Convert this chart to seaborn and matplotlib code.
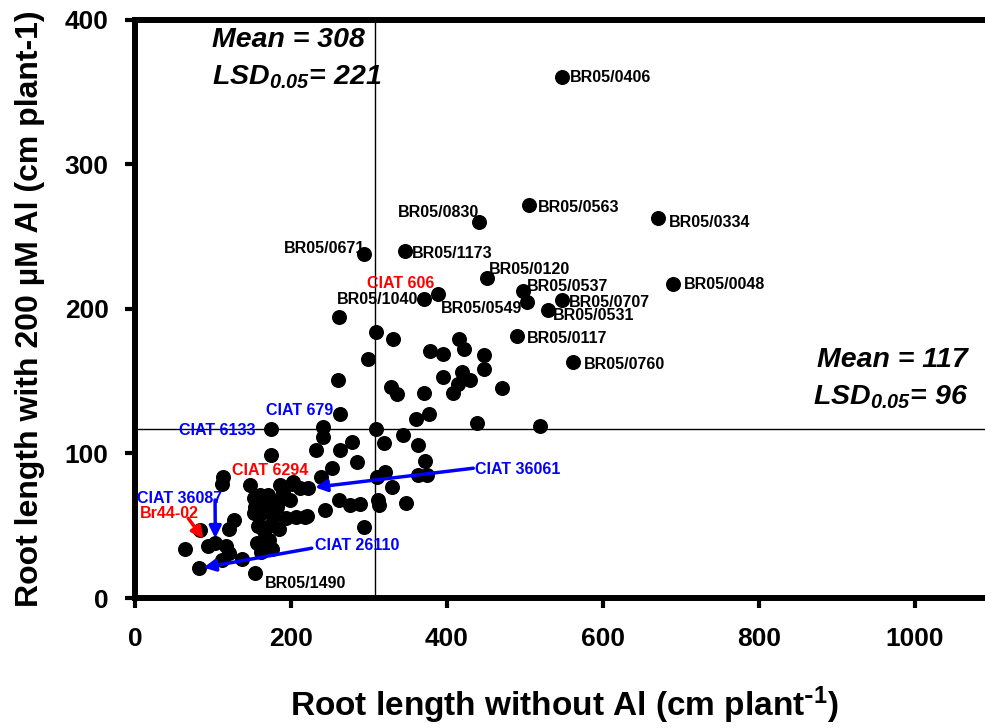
import matplotlib
matplotlib.use("Agg")
import matplotlib.pyplot as plt
import numpy as np
import pandas as pd
import seaborn as sns

# ---------------- data ----------------
label_names = ["BR05/0406", "BR05/0563", "BR05/0334", "BR05/0830", "BR05/0671",
               "BR05/1173", "BR05/0120", "BR05/0048", "BR05/0537", "BR05/0549",
               "BR05/0707", "BR05/0531", "CIAT 606", "BR05/1040", "BR05/0117",
               "BR05/0760", "CIAT 679", "CIAT 6133", "CIAT 6294", "CIAT 36061",
               "CIAT 36087", "Br44-02", "CIAT 26110", "BR05/1490"]
label_x = [548, 505, 671, 441, 293, 346, 451, 690, 497, 503, 547, 529, 388, 371,
           490, 561, 263, 174, 211.5, 222, 103, 94, 82.5, 154]
label_y = [360, 272, 263, 260, 238, 240, 221, 217, 212, 205, 206, 199, 210, 207,
           181, 163, 127, 117, 76, 76, 38, 36.3, 20.5, 17.5]

other_x = [262, 309, 331, 299, 378, 395, 415, 422, 448, 448,
           260, 395, 419, 429, 414, 408, 470, 328, 336, 370,
           360, 377, 439, 519, 309, 241, 241, 278, 263, 232,
           285, 253, 238, 319, 343, 363, 372, 363, 374, 320,
           310, 329, 312, 313, 347, 261, 276, 288, 244, 220,
           293, 174, 203, 186, 113, 111, 147, 160, 154, 127,
           120, 190, 201, 173, 186, 199, 160, 152, 177, 194,
           207, 218, 165, 172, 175, 156, 162, 120, 117, 64,
           83, 111, 137, 158, 169, 184, 152, 171, 182, 164]
other_y = [194, 184, 179, 165, 171, 169, 179, 172, 168, 158,
           151, 153, 156, 151, 148, 142, 145, 146, 141, 142,
           124, 127, 121, 119, 117, 118, 111, 108, 102, 102,
           94, 90, 84, 107, 113, 106, 95, 85, 85, 87,
           84, 77, 68, 64, 66, 68, 64, 65, 61, 57,
           49, 99, 80, 78, 84, 79, 78, 71, 63, 54,
           48, 73, 79, 65, 68, 68, 58, 59, 56, 55,
           56, 56, 46, 40, 34, 38, 32, 31, 36, 34,
           47, 26, 27, 50, 49, 48, 69, 71, 63, 62]

mean_x, lsd_x = 308, 221
mean_y, lsd_y = 117, 96
x_ticks = [0, 200, 400, 600, 800, 1000]
y_ticks = [0, 100, 200, 300, 400]

# ---------------- style ----------------
sns.set_style("white")
plt.rcParams['font.family'] = ['Liberation Sans', 'DejaVu Sans']
plt.rcParams['font.weight'] = 'bold'
plt.rcParams['mathtext.default'] = 'regular'
for key in ['text.color', 'axes.labelcolor', 'xtick.color', 'ytick.color',
            'axes.edgecolor']:
    plt.rcParams[key] = 'black'

BLUE = "#0000FF"
RED = "#FF0000"

# label offsets in points: (dx, dy, ha, color)
label_style = {
    "BR05/0406": (5.5, 0, "left", "black"),
    "BR05/0563": (6.8, -1.9, "left", "black"),
    "BR05/0334": (7.8, -3.6, "left", "black"),
    "BR05/0830": (0, 6.7, "right", "black"),
    "BR05/0671": (1, 3.5, "right", "black"),
    "BR05/1173": (4.9, -1.7, "left", "black"),
    "BR05/0120": (1.8, 6.5, "left", "black"),
    "BR05/0048": (8, -0.6, "left", "black"),
    "BR05/0537": (3.1, 3.7, "left", "black"),
    "BR05/0549": (-4, -4.8, "right", "black"),
    "BR05/0707": (5.5, -1.6, "left", "black"),
    "BR05/0531": (3.7, -4, "left", "black"),
    "CIAT 606": (-2.4, 7.9, "right", RED),
    "BR05/1040": (-4.4, -0.9, "right", "black"),
    "BR05/0117": (6.8, -1.4, "left", "black"),
    "BR05/0760": (8.2, -1.9, "left", "black"),
    "CIAT 679": (-4.9, 2.4, "right", BLUE),
    "CIAT 6133": (-10.6, -0.9, "right", BLUE),
    "CIAT 6294": (6, 12.5, "right", RED),
    "CIAT 36061": (120, 13.7, "left", BLUE),
    "CIAT 36087": (-56.6, 32.3, "left", BLUE),
    "Br44-02": (-49.2, 23.2, "left", RED),
    "CIAT 26110": (83.2, 16.8, "left", BLUE),
    "BR05/1490": (7.1, -7.6, "left", "black"),
}
# arrows: start offset in points from point, shrink at point end
arrow_style = {
    "CIAT 36061": (118.9, 14.3, 5),
    "CIAT 36087": (-0.2, 31, 3.5),
    "Br44-02": (-14.4, 19.5, 6),
    "CIAT 26110": (80.9, 14.5, 3),
}

fig = plt.figure(figsize=(9.85, 7.28), dpi=100)
ax = fig.add_axes([135 / 985, 130 / 728, 858 / 985, 578.5 / 728])

df = pd.DataFrame({"x": other_x + label_x, "y": other_y + label_y})
sns.scatterplot(data=df, x="x", y="y", ax=ax, color="black", s=117,
                linewidth=0, zorder=3, legend=False)

ax.axvline(mean_x, color="black", lw=1, zorder=1)
ax.axhline(mean_y, color="black", lw=1, zorder=1)

ax.set_xlim(0, 1100)
ax.set_ylim(0, 400)
ax.set_xticks(x_ticks)
ax.set_yticks(y_ticks)
ax.tick_params(axis="both", direction="out", length=7, width=3, colors="black",
               labelcolor="black", labelsize=19, left=True, bottom=True)
ax.tick_params(axis="x", pad=14)
ax.tick_params(axis="y", pad=12)
for lab in ax.get_xticklabels() + ax.get_yticklabels():
    lab.set_fontweight("bold")
    lab.set_color("black")

for side in ["left", "top", "bottom", "right"]:
    ax.spines[side].set_visible(True)
    ax.spines[side].set_linewidth(4.3)
    ax.spines[side].set_color("black")

ax.set_xlabel(r"Root length without Al (cm plant$^{\text{-}1}$)", fontsize=24,
              fontweight="bold", labelpad=24, color="black")
ax.set_ylabel("Root length with 200 \u00b5M Al (cm plant-1)", fontsize=23,
              fontweight="bold", labelpad=14, color="black")

for name, px, py in zip(label_names, label_x, label_y):
    dx, dy, ha, col = label_style[name]
    ax.annotate(name, xy=(px, py), xytext=(dx, dy), textcoords="offset points",
                ha=ha, va="center", fontsize=11.5, fontweight="bold", color=col,
                zorder=4)
    if name in arrow_style:
        sx, sy, shr = arrow_style[name]
        ax.annotate("", xy=(px, py), xytext=(sx, sy), textcoords="offset points",
                    arrowprops=dict(arrowstyle="-|>,head_length=0.7,head_width=0.35",
                                    color=col, lw=2.5, shrinkA=0, shrinkB=shr),
                    zorder=5)

txt_kw = dict(transform=ax.transAxes, fontsize=20.5, fontweight="bold",
              fontstyle="italic", va="center", color="black")
ax.text(0.0897, 0.9646, f"Mean = {mean_x}", ha="left", **txt_kw)
ax.text(0.0897, 0.901, f"LSD$_{{0.05}}$= {lsd_x}", ha="left", **txt_kw)
ax.text(0.971, 0.411, f"Mean = {mean_y}", ha="right", **txt_kw)
ax.text(0.971, 0.3475, f"LSD$_{{0.05}}$= {lsd_y}", ha="right", **txt_kw)

fig.savefig("out.png", dpi=100)
